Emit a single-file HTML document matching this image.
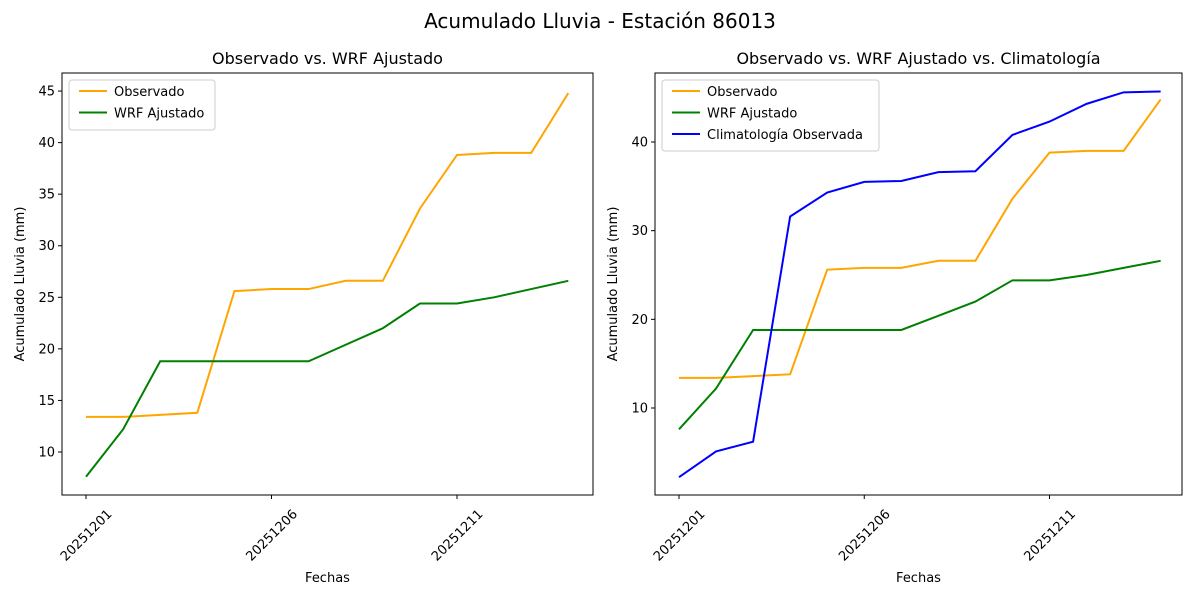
<!DOCTYPE html>
<html><head><meta charset="utf-8"><style>
body{margin:0;background:#fff;}
svg{display:block;font-family:"DejaVu Sans","Liberation Sans",sans-serif;}
</style></head><body>
<svg id="chart" width="1200" height="600">
<text x="600" y="28" text-anchor="middle" font-size="20">Acumulado Lluvia - Estación 86013</text>
</svg>
<script>
const dates=["20251201","20251202","20251203","20251204","20251205","20251206","20251207","20251208","20251209","20251210","20251211","20251212","20251213","20251214"];
const xTickLabels=["20251201","20251206","20251211"];
const observado=[13.4,13.4,13.6,13.8,25.6,25.8,25.8,26.6,26.6,33.6,38.8,39.0,39.0,44.8];
const wrf=[7.6,12.2,18.8,18.8,18.8,18.8,18.8,20.4,22.0,24.4,24.4,25.0,25.8,26.6];
const clima=[2.2,5.1,6.2,31.6,34.3,35.5,35.6,36.6,36.7,40.8,42.3,44.3,45.6,45.7];
const leftYTicks=[10,15,20,25,30,35,40,45];
const rightYTicks=[10,20,30,40];
const NS="http://www.w3.org/2000/svg";
const svg=document.getElementById('chart');
function el(t,a,p){const e=document.createElementNS(NS,t);for(const k in a)e.setAttribute(k,a[k]);(p||svg).appendChild(e);return e;}
function panel(cfg){
  const {x0,x1,y0,y1,ymin,ymax,title,series,yTicks,name,xFirst,xStep}=cfg;
  const g=el('g',{});
  
  
  const xs=i=>xFirst+i*xStep;
  const ys=v=>y1-(v-ymin)/(ymax-ymin)*(y1-y0);
  const t=el('text',{x:(x0+x1)/2,y:y0-9,'text-anchor':'middle','font-size':16},g);t.textContent=title;
  
  yTicks.forEach(v=>{const y=ys(v);el('line',{x1:x0-4,x2:x0,y1:y,y2:y,stroke:'#000'},g);
    const tx=el('text',{x:x0-7,y:y+4.5,'text-anchor':'end','font-size':13},g);tx.textContent=v;
    });
  xTickLabels.forEach(lab=>{const i=dates.indexOf(lab);const x=xs(i);el('line',{x1:x,x2:x,y1:y1,y2:y1+4,stroke:'#000'},g);
    const cy=y1+40;
    const tx=el('text',{x:x,y:cy+4.5,'text-anchor':'middle','font-size':13,transform:`rotate(-45 ${x} ${cy})`},g);tx.textContent=lab;
    });
  const xl=el('text',{x:(x0+x1)/2,y:582,'text-anchor':'middle','font-size':13},g);xl.textContent='Fechas';
  
  const yl=el('text',{x:0,y:0,'text-anchor':'middle','font-size':13,transform:`translate(${x0-38},${(y0+y1)/2}) rotate(-90)`},g);yl.textContent='Acumulado Lluvia (mm)';
  
  series.forEach(s=>{const p=el('polyline',{points:s.data.map((v,i)=>xs(i)+','+ys(v)).join(' '),fill:'none',stroke:s.color,'stroke-width':2},g);
    });
  el('rect',{x:x0,y:y0,width:x1-x0,height:y1-y0,fill:'none',stroke:'#000','stroke-width':1},g);
  const lw=cfg.legendW,lh=series.length*21+8;
  const lg=el('g',{},g);
  el('rect',{x:x0+7,y:y0+7,width:lw,height:lh,rx:3,fill:'#fff',stroke:'#ccc'},lg);
  series.forEach((s,i)=>{const y=y0+18+i*21.5;el('line',{x1:x0+17,x2:x0+45,y1:y,y2:y,stroke:s.color,'stroke-width':2},lg);
    const tx=el('text',{x:x0+52,y:y+5,'font-size':13},lg);tx.textContent=s.label;
    });
}
panel({name:'left-panel',x0:62,x1:593,y0:73,y1:495,ymin:5.83,ymax:46.75,xFirst:86,xStep:37.1,title:'Observado vs. WRF Ajustado',yTicks:leftYTicks,legendW:146,
  series:[{key:'observado',label:'Observado',color:'orange',data:observado},{key:'wrf',label:'WRF Ajustado',color:'green',data:wrf}]});
panel({name:'right-panel',x0:655,x1:1182,y0:73,y1:495,ymin:0.19,ymax:47.78,xFirst:679,xStep:37.05,title:'Observado vs. WRF Ajustado vs. Climatología',yTicks:rightYTicks,legendW:217,
  series:[{key:'observado',label:'Observado',color:'orange',data:observado},{key:'wrf',label:'WRF Ajustado',color:'green',data:wrf},{key:'clima',label:'Climatología Observada',color:'blue',data:clima}]});
</script>
</body></html>
